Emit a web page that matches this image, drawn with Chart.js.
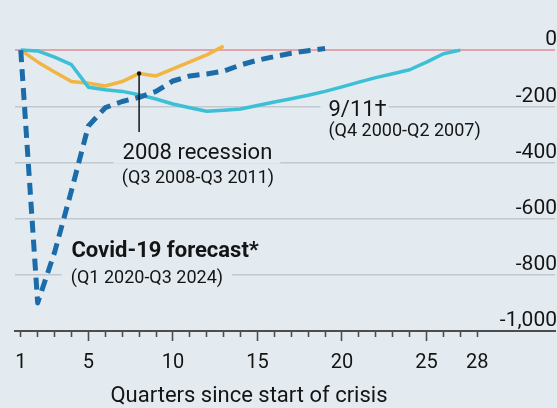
<!DOCTYPE html>
<html><head><meta charset="utf-8">
<script src="https://cdn.jsdelivr.net/npm/chart.js@4.4.1/dist/chart.umd.min.js"></script>
<style>
html,body{margin:0;padding:0;background:#e3ebf0;}
#wrap{width:557px;height:408px;position:relative;overflow:hidden;}
canvas{display:block;}
</style></head><body>
<div id="wrap"><canvas id="c" width="557" height="408"></canvas></div>
<script>
// ---- data ----
const quarters = [1,2,3,4,5,6,7,8,9,10,11,12,13,14,15,16,17,18,19,20,21,22,23,24,25,26,27,28];
const xTickLabels = [1,5,10,15,20,25,28];
const xMajorTicks = [5,10,15,20,25];
const yTickValues = [0,-200,-400,-600,-800,-1000];
// Covid-19 forecast (Q1 2020-Q3 2024), quarters 1..19
const covid = [0,-900,-720,-500,-270,-205,-183,-168,-147,-110,-92,-85,-75,-53,-36,-23,-11,-2,6];
// 2008 recession (Q3 2008-Q3 2011), quarters 1..13
const recession2008 = [0,-42,-78,-112,-118,-128,-112,-83,-92,-67,-42,-17,14];
// 9/11 (Q4 2000-Q2 2007), quarters 1..27
const sept11 = [0,-3,-25,-52,-132,-141,-147,-159,-174,-192,-205,-218,-214,-210,-197,-185,-173,-161,-147,-131,-114,-98,-84,-70,-43,-13,0];
const xTitle = 'Quarters since start of crisis';

// ---- annotations (data coordinates) ----
const notes = [
  {text:'9/11†', q:19.2, v:-235, font:'22px Roboto', pad:[8,2]},
  {text:'(Q4 2000-Q2 2007)', q:19.2, v:-306, font:'18px Roboto', pad:[8,8]},
  {text:'2008 recession', q:7.02, v:-386, font:'22px Roboto', pad:[9,8]},
  {text:'(Q3 2008-Q3 2011)', q:6.98, v:-473, font:'18px Roboto', pad:[9,8]},
  {text:'Covid-19 forecast*', q:4.0, v:-735, font:'bold 22px Roboto', pad:[9,8]},
  {text:'(Q1 2020-Q3 2024)', q:3.96, v:-829, font:'18px Roboto', pad:[9,9]}
];
const pointer = {q:8, toV:-292};

const BG = '#e3ebf0';
const INK = '#141414';

function pts(arr){ return arr.map((v,i)=>({x:quarters[i], y:v})); }

const notesPlugin = {
  id:'notes',
  beforeDatasetsDraw(chart){
    const {ctx, scales:{x,y}} = chart;
    ctx.save();
    ctx.fillStyle = BG;
    notes.forEach(n=>{
      ctx.font = n.font;
      const w = ctx.measureText(n.text).width;
      const px = x.getPixelForValue(n.q), py = y.getPixelForValue(n.v);
      ctx.fillRect(px - n.pad[0], py - 19, w + n.pad[0] + n.pad[1], 24);
    });
    ctx.restore();
  },
  afterDatasetsDraw(chart){
    const {ctx, scales:{x,y}} = chart;
    ctx.save();
    // pointer from 2008 line down to its label
    const px = x.getPixelForValue(pointer.q);
    const top = y.getPixelForValue(recession2008[pointer.q-1]);
    const bot = y.getPixelForValue(pointer.toV);
    ctx.strokeStyle = INK; ctx.lineWidth = 1.5;
    ctx.beginPath(); ctx.moveTo(px, top); ctx.lineTo(px, bot); ctx.stroke();
    ctx.fillStyle = INK;
    ctx.beginPath(); ctx.arc(px, top, 2.2, 0, Math.PI*2); ctx.fill();
    // labels
    ctx.textBaseline = 'alphabetic'; ctx.textAlign = 'left';
    notes.forEach(n=>{
      ctx.font = n.font;
      ctx.fillText(n.text, x.getPixelForValue(n.q), y.getPixelForValue(n.v));
    });
    // x axis title, centred on quarters 1..28
    ctx.font = '22px Roboto';
    ctx.textAlign = 'center';
    const cx = (x.getPixelForValue(quarters[0]) + x.getPixelForValue(quarters[quarters.length-1]))/2;
    ctx.fillText(xTitle, cx, 402);
    ctx.restore();
  }
};

new Chart(document.getElementById('c'), {
  type:'line',
  data:{
    datasets:[
      {label:'Covid-19 forecast', data:pts(covid), borderColor:'#1b6ca8', borderWidth:5, borderDash:[12,7], pointRadius:0, tension:0, fill:false},
      {label:'9/11', data:pts(sept11), borderColor:'#3dbfd6', borderWidth:3.5, pointRadius:0, tension:0, fill:false},
      {label:'2008 recession', data:pts(recession2008), borderColor:'#f2b443', borderWidth:3.5, pointRadius:0, tension:0, fill:false}
    ]
  },
  options:{
    responsive:false, animation:false,
    layout:{padding:{left:15, right:0, top:22, bottom:0}},
    plugins:{legend:{display:false}, tooltip:{enabled:false}, title:{display:false}},
    elements:{line:{borderCapStyle:'butt', borderJoinStyle:'round'}},
    scales:{
      x:{
        type:'linear', min:0.66, max:32.6,
        afterBuildTicks:(s)=>{ s.ticks = quarters.map(v=>({value:v})); },
        afterFit:(s)=>{ s.height = 77; },
        border:{display:true, color:'#4d4d4d', width:2},
        grid:{drawOnChartArea:false, drawTicks:true, tickLength:10, tickColor:'#4d4d4d', tickWidth:1.6,
              tickBorderDash:(c)=> xMajorTicks.includes(c.tick && c.tick.value) ? [] : [5,30]},
        ticks:{autoSkip:false, maxRotation:0, padding:10, color:INK, font:{family:'Roboto', size:20},
               callback:(v)=> xTickLabels.includes(v) ? String(v) : ''}
      },
      y:{
        position:'right', min:-1000, max:100,
        afterBuildTicks:(s)=>{ s.ticks = yTickValues.map(v=>({value:v})); },
        afterFit:(s)=>{ s.width = 2; },
        border:{display:false},
        grid:{drawTicks:false,
              color:(c)=> c.tick.value===0 ? '#e3a3a8' : (c.tick.value===-1000 ? 'rgba(0,0,0,0)' : '#c2c9ce'),
              lineWidth:(c)=> c.tick.value===0 ? 2 : 1.5},
        ticks:{mirror:true, padding:2, labelOffset:-10, color:INK, font:{family:'Roboto', size:21},
               callback:(v)=> v===0 ? '0' : Number(v).toLocaleString('en-US')}
      }
    }
  },
  plugins:[notesPlugin]
});
</script>
</body></html>
